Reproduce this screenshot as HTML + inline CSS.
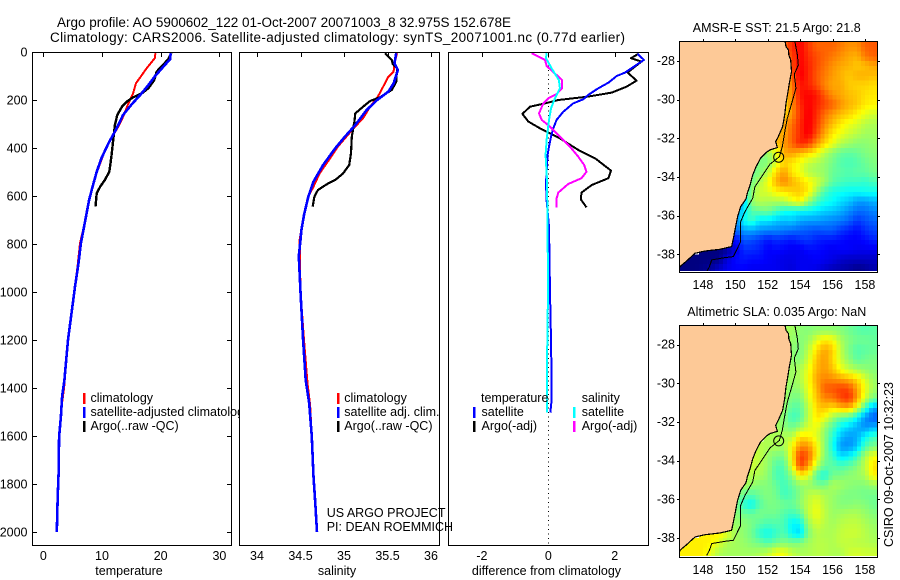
<!DOCTYPE html>
<html lang="en">
<head>
<meta charset="utf-8">
<title>Argo profile 5900602_122</title>
<style>
html,body{margin:0;padding:0;background:#fff;}
svg{display:block;}
text{font-family:"Liberation Sans",sans-serif;font-size:12.5px;fill:#000;}
.t13{font-size:13.5px;}
</style>
</head>
<body>
<svg id="chart" xmlns="http://www.w3.org/2000/svg" width="900" height="580" viewBox="0 0 900 580">
  <defs>
    <clipPath id="clip-t"><rect x="32" y="52" width="199" height="493"/></clipPath>
    <clipPath id="clip-s"><rect x="239" y="52" width="200" height="493"/></clipPath>
    <clipPath id="clip-d"><rect x="448" y="52" width="200" height="493"/></clipPath>
    <clipPath id="clip-m1"><rect x="679" y="41" width="198" height="230"/></clipPath>
    <clipPath id="clip-m2"><rect x="679" y="325" width="198" height="231"/></clipPath>
    <clipPath id="clip-legend"><rect x="80" y="390" width="159" height="50"/></clipPath>
  </defs>
  <g id="plots"></g>

  <text class="t13" x="57" y="27" textLength="454" lengthAdjust="spacing">Argo profile: AO 5900602_122 01-Oct-2007 20071003_8 32.975S 152.678E</text>
  <text class="t13" x="50" y="42" textLength="575" lengthAdjust="spacing">Climatology: CARS2006. Satellite-adjusted climatology: synTS_20071001.nc (0.77d earlier)</text>

  <text x="129" y="575" text-anchor="middle">temperature</text>
  <text x="337" y="575" text-anchor="middle">salinity</text>
  <text x="546.5" y="575" text-anchor="middle">difference from climatology</text>

  <g>
    <rect x="83" y="393" width="2.5" height="11" fill="#f00"/>
    <text x="90.5" y="402">climatology</text>
    <rect x="83" y="407" width="2.5" height="11" fill="#00f"/>
    <text x="90.5" y="416" clip-path="url(#clip-legend)">satellite-adjusted climatology</text>
    <rect x="83" y="421" width="2.5" height="11" fill="#000"/>
    <text x="90.5" y="430">Argo(..raw -QC)</text>
  </g>

  <g>
    <rect x="337" y="393" width="2.5" height="11" fill="#f00"/>
    <text x="344.3" y="402">climatology</text>
    <rect x="337" y="407" width="2.5" height="11" fill="#00f"/>
    <text x="344.3" y="416">satellite adj. clim.</text>
    <rect x="337" y="421" width="2.5" height="11" fill="#000"/>
    <text x="344.3" y="430">Argo(..raw -QC)</text>
  </g>
  <text x="326.7" y="517">US ARGO PROJECT</text>
  <text x="326.7" y="531">PI: DEAN ROEMMICH</text>

  <g>
    <text x="481" y="402">temperature</text>
    <rect x="473" y="407" width="2.5" height="11" fill="#00f"/>
    <text x="481.5" y="416">satellite</text>
    <rect x="473" y="421" width="2.5" height="11" fill="#000"/>
    <text x="481.5" y="430">Argo(-adj)</text>
    <text x="581.7" y="402">salinity</text>
    <rect x="573" y="407" width="2.5" height="11" fill="#0ff"/>
    <text x="581.7" y="416">satellite</text>
    <rect x="573" y="421" width="2.5" height="11" fill="#f0f"/>
    <text x="581.7" y="430">Argo(-adj)</text>
  </g>

  <text x="692.7" y="32" textLength="168" lengthAdjust="spacing">AMSR-E SST: 21.5 Argo: 21.8</text>
  <text x="687.3" y="316" textLength="179" lengthAdjust="spacing">Altimetric SLA: 0.035 Argo: NaN</text>
  <text transform="translate(893,547) rotate(-90)" textLength="165" lengthAdjust="spacing">CSIRO 09-Oct-2007 10:32:23</text>
</svg>

<script>
// ---------- depth axis ----------
const depthTicks = [0, 200, 400, 600, 800, 1000, 1200, 1400, 1600, 1800, 2000];

// ---------- temperature panel ----------
const tempTicks = [0, 10, 20, 30];
const tempClimDepth = [5, 26, 68, 96, 130, 172, 214, 270, 311, 346, 385, 430, 490, 540, 600, 707, 797, 880, 1000, 1200, 1400, 1480, 1550, 1603, 1756, 1853, 2000];
const tempClimValue = [19.1, 19.0, 17.6, 16.8, 15.8, 15.3, 14.5, 13.6, 12.8, 11.9, 11.0, 10.2, 9.3, 8.6, 8.0, 7.1, 6.25, 5.9, 5.3, 4.2, 3.55, 3.1, 2.9, 2.7, 2.6, 2.45, 2.3];
const tempSatDepth = [5, 30, 60, 105, 147, 179, 217, 262, 318, 380, 443, 499, 561, 617, 707, 797, 880, 978, 1200, 1367, 1436, 1520, 1603, 1756, 1853, 2000];
const tempSatValue = [21.7, 21.6, 20.5, 18.9, 17.6, 16.5, 15.1, 13.6, 12.5, 11.1, 9.9, 9.1, 8.4, 7.8, 7.1, 6.4, 6.0, 5.4, 4.2, 3.6, 3.2, 3.0, 2.7, 2.6, 2.45, 2.3];
const tempArgoDepth = [5, 30, 82, 117, 151, 172, 189, 207, 228, 262, 304, 367, 436, 499, 533, 561, 589, 644];
const tempArgoValue = [21.8, 21.3, 19.3, 18.9, 17.9, 16.8, 15.3, 14.2, 13.4, 12.6, 12.2, 11.9, 11.6, 11.25, 10.5, 9.7, 9.1, 8.9];

// ---------- salinity panel ----------
const salTicks = [34, 34.5, 35, 35.5, 36];
const salClimDepth = [5, 47, 82, 103, 144, 186, 228, 276, 318, 360, 394, 443, 506, 561, 603, 679, 783, 1000, 1200, 1380, 1470, 1603, 1769, 1881, 2000];
const salClimValue = [35.61, 35.58, 35.57, 35.51, 35.45, 35.39, 35.30, 35.22, 35.11, 35.01, 34.93, 34.84, 34.72, 34.65, 34.59, 34.54, 34.49, 34.5, 34.54, 34.58, 34.61, 34.63, 34.65, 34.67, 34.69];
const salSatDepth = [5, 47, 75, 131, 165, 200, 242, 304, 353, 401, 471, 540, 603, 679, 742, 783, 850, 1000, 1200, 1367, 1464, 1603, 1769, 1881, 2000];
const salSatValue = [35.60, 35.58, 35.62, 35.57, 35.51, 35.38, 35.26, 35.13, 35.01, 34.90, 34.76, 34.65, 34.59, 34.54, 34.51, 34.50, 34.48, 34.5, 34.53, 34.56, 34.60, 34.63, 34.65, 34.67, 34.69];
const salArgoDepth = [5, 33, 50, 68, 124, 158, 189, 204, 228, 256, 290, 353, 422, 471, 506, 533, 547, 575, 603, 644];
const salArgoValue = [35.47, 35.55, 35.56, 35.61, 35.6, 35.55, 35.41, 35.30, 35.22, 35.13, 35.12, 35.09, 35.08, 35.06, 34.99, 34.9, 34.82, 34.70, 34.66, 34.64];

// ---------- difference panel ----------
const diffTicks = [-2, 0, 2];
const diffTempArgoDepth = [8, 26, 40, 61, 86, 119, 144, 169, 186, 200, 214, 228, 258, 290, 322, 360, 408, 443, 494, 526, 554, 586, 614, 647];
const diffTempArgoValue = [2.71, 2.49, 2.81, 2.61, 2.39, 2.66, 2.36, 1.91, 1.20, 0.30, -0.10, -0.55, -0.78, -0.60, -0.20, 0.35, 0.90, 1.41, 1.89, 1.81, 1.31, 1.00, 0.98, 1.15];
const diffTempSatDepth = [8, 33, 58, 86, 100, 128, 151, 179, 197, 214, 249, 283, 318, 353, 394, 429, 547, 617, 728, 1000, 1200, 1367, 1450, 1503];
const diffTempSatValue = [2.69, 2.88, 2.61, 2.31, 2.06, 1.81, 1.51, 1.20, 1.05, 0.75, 0.45, 0.25, 0.15, 0.08, 0.02, -0.02, -0.07, -0.05, 0.02, 0.05, 0.08, 0.10, 0.10, 0.06];
const diffSalArgoDepth = [5, 19, 33, 58, 96, 117, 151, 175, 193, 214, 256, 283, 311, 353, 394, 436, 471, 499, 526, 550, 586, 610, 647];
const diffSalArgoValue = [-0.50, -0.30, -0.10, -0.05, 0.25, 0.42, 0.42, 0.25, 0.0, -0.15, -0.28, -0.20, 0.05, 0.35, 0.65, 0.90, 1.08, 1.15, 1.00, 0.60, 0.30, 0.25, 0.25];
const diffSalSatDepth = [5, 26, 68, 117, 151, 193, 235, 283, 367, 429, 533, 728, 1000, 1200, 1367, 1503];
const diffSalSatValue = [-0.05, -0.07, 0.10, 0.32, 0.35, 0.20, 0.08, 0.02, -0.05, -0.08, -0.04, -0.02, -0.01, -0.03, -0.04, -0.04];

// ---------- maps ----------
const lonTicks = [148, 150, 152, 154, 156, 158];
const latTicks = [-28, -30, -32, -34, -36, -38];
const profileLon = 152.678;
const profileLat = -32.975;
const rowFirstLon = [153, 153, 153, 153, 153, 153, 153, 153, 152.5, 152.5, 152, 152, 151.5, 151, 151, 150.5, 150, 150, 149.5, 149.5, 149.5, 148, 146.5, 146.5];
const sstRows = [
 [21,21.5,21.9,21.4,21,21,21,20.8,20.6,20.6,21,21.1],
 [20.8,21.3,21.9,21.5,21.2,21,20.8,20.6,20.4,20.3,20.8,21],
 [20.5,21.2,21.9,21.6,21.2,20.9,20.6,20.4,20.3,20.1,20.2,20.4],
 [20.2,21,22,21.6,21.1,20.8,20.5,20.3,20.1,20.3,20.3,20.2],
 [20,20.8,21.7,21.6,21.2,20.7,20.4,20.4,20.1,20,20,19.9],
 [20,20.7,21.7,21.9,21.7,21.1,20.6,20.4,20.2,20.1,19.9,19.8],
 [19.9,20.6,21.5,21.9,21.6,21.3,21,20.6,20.3,20.1,19.8,19.7],
 [20,20.6,21.4,22,21.5,20.9,20.5,20.2,20,19.7,19.4,19.2],
 [19.9,20.4,20.9,21.5,22,21.4,20.7,20.2,19.8,19.5,19.3,19,18.9],
 [20.3,20.4,21,21.5,22,21.2,20.4,19.8,19.5,19.2,19,18.8,18.8],
 [19.7,20.2,20.5,21,21.6,21.4,20.6,20,19.5,19,18.8,18.6,18.6,18.7],
 [18.7,19.3,20.4,20.5,20.2,20,19.6,19,18.6,18.3,18.2,18.3,18.5,18.6],
 [18.5,18.5,19.3,20,19.8,19.5,19.1,18.9,18.7,18.4,18.1,18,18.1,18.3,18.5],
 [18.3,18.5,19,20,20.5,19.8,19.5,19,18.8,18.7,18.3,18.2,18.1,18.2,18.2,18.4],
 [18.4,18.9,19.5,20.3,20.7,20.3,20,19.7,19.3,18.8,18.2,18,17.9,17.9,17.8,18],
 [17.5,18.6,19.2,19.3,19.7,19.8,20,20.1,19.8,18.8,18,17.6,17.5,17.4,17.4,17.5,17.5],
 [16.5,16.8,18.7,19,18.9,18.9,19,19.4,19.7,18.8,18,17.6,17.4,17.1,16.9,16.5,16.5,16.7],
 [16.3,17.2,18.1,18.3,18.4,18,17.6,17.5,17.4,17.4,17.2,17,16.9,16.7,16.4,16.1,16.1,16.3],
 [15.8,16.3,17.4,17.9,17.2,17.2,16.9,16.8,16.9,16.6,16.5,16.5,16.4,16.3,16.2,16,15.6,15.8,16],
 [15.5,16,16.5,16.6,16.4,16.3,16.3,16.2,16.1,16,15.9,15.8,15.9,15.9,15.6,15.4,15.2,15.5,15.7],
 [15.2,15.1,15.9,15.8,15.6,15.3,15.5,15.4,15.3,15.5,15.6,15.4,15.3,15.3,15.2,15.1,15.1,15.2,15.4],
 [14,14,14,14.2,14.8,15.5,15.5,15.4,15.1,15.2,15.1,15,15,15.2,15.2,15.1,15,15.1,15.1,15,15,15],
 [14,14,14,14,14,14.1,14.8,15.2,15.3,15.2,15.2,15.1,15,14.9,14.9,15,15,15.1,15,14.9,14.7,14.6,14.6,14.6,14.6],
 [14,14,14,14.1,14.3,14.7,15,15.1,15.1,15,15,15,15,14.9,14.8,15,15,14.9,14.7,14.5,14.4,14.3,14.1,14.2,14.4]
];
const slaRows = [
 [2,2,0,-1,0,0,0,-1,-3,-5,-6,-5],
 [2,1,-1,1,8,13,11,3,-1,-3,-3,-4],
 [2,0,-2,4,14,20,16,5,-2,-6,-5,-4],
 [2,0,-1,6,17,21,15,6,0,-5,-3,-2],
 [3,1,3,9,18,21,17,10,5,2,0,-1],
 [3,1,3,10,20,23,22,20,18,14,7,1],
 [2,0,1,9,18,27,28,30,29,20,10,2],
 [2,-2,-2,7,17,23,24,29,32,21,7,-2],
 [3,1,-5,-5,4,15,17,14,18,19,9,-8,-22],
 [2,-1,-8,-6,4,14,10,2,-4,-6,-14,-25,-30],
 [3,2,0,-3,1,7,10,1,-6,-14,-18,-22,-25,-22],
 [3,3,3,4,14,13,8,0,-10,-20,-24,-22,-14,-8],
 [4,3,3,2,11,22,22,12,0,-12,-24,-25,-20,-7,-2],
 [6,5,1,-2,-2,12,31,27,12,-1,-8,-17,-15,-8,3,10],
 [6,4,1,-6,-6,9,30,22,5,-4,-5,-7,-5,-1,5,14],
 [3,4,3,0,-7,-7,0,12,9,-6,-12,-3,-2,0,1,3,12],
 [3,3,1,-1,-1,-4,-8,-4,0,1,-2,-2,3,2,0,-1,-1,1],
 [0,-4,-6,-3,-1,-3,-8,-6,-1,4,6,3,1,-1,-2,-2,-3,-3],
 [2,-1,-10,-14,-6,-2,-2,-3,-4,0,5,9,4,1,-1,-1,0,-1,-3],
 [1,0,-3,-4,-2,-3,-3,-6,-8,-5,5,10,5,1,2,3,3,1,-1],
 [2,1,0,-2,-5,-7,-6,-7,-15,-14,1,7,4,2,4,5,5,3,1],
 [12,12,12,8,2,0,-3,-10,-13,-9,-6,-14,-18,-2,4,3,3,5,6,6,4,2],
 [12.5,12.5,12.5,12.5,12,8,3,2,1,-1,-3,-6,-3,-1,-2,-1,2,4,4,3,5,5,4,4,3],
 [12.5,12.5,12.5,12.5,8,3,2,2,2,2,3,5,10,10,5,3,3,4,4,3,3,6,7,6,6]
];
const coastLon = [153.07,153.13,153.28,153.30,153.42,153.47,153.33,153.25,153.13,153.05,152.92,152.65,152.49,152.59,152.14,151.93,151.56,151.28,151.07,150.91,150.74,150.66,150.33,150.14,149.98,149.88,149.77,149.05,148.13,147.51,147.0,146.58,146.54];
const coastLat = [-27.0,-27.26,-27.43,-27.69,-27.95,-28.55,-29.16,-29.59,-30.19,-30.79,-31.40,-31.91,-32.17,-32.48,-32.60,-32.72,-33.03,-33.47,-33.90,-34.41,-34.84,-35.14,-35.53,-36.05,-36.74,-37.17,-37.60,-37.74,-37.83,-37.95,-38.34,-38.64,-38.76];
const isobathLon = [153.68,153.83,153.89,153.64,153.74,153.48,153.21,153.07,152.90,152.72,152.14,151.63,151.21,151.07,150.6,150.33,150.33,149.88,149.36,148.54,148.4,148.23];
const isobathLat = [-27.0,-27.69,-28.21,-28.69,-29.41,-30.19,-30.97,-31.57,-32.43,-32.95,-33.34,-33.98,-34.5,-35.10,-35.79,-36.31,-37.34,-38.12,-38.17,-38.29,-38.64,-38.9];

// ---------- axis functions ----------
const yDepth = d => 52 + 0.24 * d;
const xTemp = v => 43.3 + 5.87 * v;
const xSal = v => 257 + 87 * (v - 34);
const xDiff = v => 548.3 + 33.2 * v;
const xLon = lon => 735.33 + (lon - 150) * 16.2;
const yLat1 = lat => 138.33 + (-32 - lat) * 19.33;
const yLat2 = lat => 138.33 + 283.7 + (-32 - lat) * 19.33;
const sstColor = v => jet((v - 14) / 9);
const slaColor = v => jet((v + 51.5) / 100);

const NS = 'http://www.w3.org/2000/svg';
const root = document.getElementById('plots');

function clamp01(a) { return Math.max(0, Math.min(1, a)); }
function jet(t) {
  const r = clamp01(1.5 - Math.abs(4 * t - 3));
  const g = clamp01(1.5 - Math.abs(4 * t - 2));
  const b = clamp01(1.5 - Math.abs(4 * t - 1));
  return 'rgb(' + Math.round(r * 255) + ',' + Math.round(g * 255) + ',' + Math.round(b * 255) + ')';
}
function mk(tag, parent, attrs) {
  const n = document.createElementNS(NS, tag);
  for (const k in attrs) n.setAttribute(k, attrs[k]);
  parent.appendChild(n);
  return n;
}
function seg(parent, x1, y1, x2, y2) {
  return mk('line', parent, { x1: x1, y1: y1, x2: x2, y2: y2, stroke: '#000', 'stroke-width': 1, 'shape-rendering': 'crispEdges' });
}
function label(parent, x, y, str, anchor) {
  const t = mk('text', parent, { x: x, y: y, 'text-anchor': anchor });
  t.textContent = str;
  return t;
}
function profile(parent, xs, ds, xf, color, width, name) {
  const pts = xs.map((v, i) => xf(v).toFixed(1) + ',' + yDepth(ds[i]).toFixed(1)).join(' ');
  const el = mk('polyline', parent, { points: pts, fill: 'none', stroke: color, 'stroke-width': width, 'stroke-linejoin': 'round', 'shape-rendering': 'crispEdges' });
  
  
}
function panel(name, x0, x1, ticks, xf, clipId, withDepthLabels) {
  const g = mk('g', root, {});
  
  
  const bg = mk('rect', g, { x: x0, y: 52, width: x1 - x0, height: 493, fill: '#fff' });
  
  
  const lines = mk('g', g, { 'clip-path': 'url(#' + clipId + ')' });
  
  
  const frame = mk('rect', g, { x: x0 + 0.5, y: 52.5, width: x1 - x0, height: 493, fill: 'none', stroke: '#000', 'stroke-width': 1, 'shape-rendering': 'crispEdges' });
  
  
  ticks.forEach(v => {
    const px = Math.round(xf(v)) + 0.5;
    const tick = seg(g, px, 52, px, 57);
    
    
    const lab = label(g, xf(v), 560, String(v), 'middle');
    
    
  });
  if (withDepthLabels) {
    depthTicks.forEach(d => {
      const py = Math.round(yDepth(d)) + 0.5;
      const left = seg(g, x0, py, x0 + 5, py);
      
      
      const right = seg(g, x1 - 4, py, x1 + 1, py);
      
      
      const lab = label(g, 27.5, yDepth(d) + 4.5, String(d), 'end');
      
      
    });
  }
  return lines;
}
// Reads the half-degree arrays at a quarter-degree display position.
function fieldAt(rows, lon, lat) {
  const gj = (-27.25 - lat) / 0.5;
  const j0 = Math.floor(gj);
  let sum = 0, wsum = 0;
  [j0, j0 + 1].forEach(j => {
    if (j < 0 || j >= rows.length) return;
    const wj = 1 - Math.abs(gj - j);
    const gk = (lon - rowFirstLon[j]) / 0.5;
    const k0 = Math.floor(gk);
    [k0, k0 + 1].forEach(k => {
      if (k < 0 || k >= rows[j].length) return;
      const w = wj * (1 - Math.abs(gk - k));
      if (w <= 0) return;
      sum += w * rows[j][k];
      wsum += w;
    });
  });
  return wsum > 0 ? sum / wsum : null;
}
function drawMap(name, rows, colorOf, yLat, clipId, top, bottom) {
  const g = mk('g', root, {});
  
  
  const body = mk('g', g, { 'clip-path': 'url(#' + clipId + ')' });
  
  
  rows.forEach((row, j) => {
    const lat0 = -27.25 - 0.5 * j;
    row.forEach((v, k) => {
      const lon0 = rowFirstLon[j] + 0.5 * k;
      [-0.125, 0.125].forEach(dLat => {
        [-0.125, 0.125].forEach(dLon => {
          const lon = lon0 + dLon;
          const lat = lat0 + dLat;
          const val = fieldAt(rows, lon, lat);
          const cell = mk('rect', body, {
            x: xLon(lon - 0.125).toFixed(2),
            y: yLat(lat + 0.125).toFixed(2),
            width: (xLon(lon + 0.125) - xLon(lon - 0.125) + 0.4).toFixed(2),
            height: (yLat(lat - 0.125) - yLat(lat + 0.125) + 0.4).toFixed(2),
            fill: colorOf(val === null ? v : val),
            'shape-rendering': 'crispEdges'
          });
          
          
        });
      });
    });
  });
  const landPts = coastLon.map((lon, i) => xLon(lon).toFixed(1) + ',' + yLat(coastLat[i]).toFixed(1));
  landPts.push(xLon(146.4).toFixed(1) + ',' + yLat(coastLat[coastLat.length - 1]).toFixed(1));
  landPts.push(xLon(146.4).toFixed(1) + ',' + (top - 2));
  landPts.push(xLon(coastLon[0]).toFixed(1) + ',' + (top - 2));
  const land = mk('polygon', body, { points: landPts.join(' '), fill: '#fdc997', stroke: 'none' });
  
  
  const coast = mk('polyline', body, { points: coastLon.map((lon, i) => xLon(lon).toFixed(1) + ',' + yLat(coastLat[i]).toFixed(1)).join(' '), fill: 'none', stroke: '#000', 'stroke-width': 1.2, 'shape-rendering': 'crispEdges' });
  
  
  const iso = mk('polyline', body, { points: isobathLon.map((lon, i) => xLon(lon).toFixed(1) + ',' + yLat(isobathLat[i]).toFixed(1)).join(' '), fill: 'none', stroke: '#000', 'stroke-width': 1, 'shape-rendering': 'crispEdges' });
  
  
  const marker = mk('circle', body, { cx: xLon(profileLon).toFixed(1), cy: yLat(profileLat).toFixed(1), r: 5, fill: 'none', stroke: '#000', 'stroke-width': 1 });
  
  
  const frame = mk('rect', g, { x: 679.5, y: top + 0.5, width: 198, height: bottom - top, fill: 'none', stroke: '#000', 'stroke-width': 1, 'shape-rendering': 'crispEdges' });
  
  
  lonTicks.forEach(lon => {
    const px = Math.round(xLon(lon)) + 0.5;
    const tick = seg(g, px, top - 2, px, top);
    
    
    const lab = label(g, xLon(lon), bottom + 17, String(lon), 'middle');
    
    
  });
  latTicks.forEach(lat => {
    const py = Math.round(yLat(lat)) + 0.5;
    const tl = seg(g, 677, py, 679, py);
    
    
    const tr = seg(g, 878, py, 880, py);
    
    
    const lab = label(g, 675, yLat(lat) + 4, String(lat), 'end');
    
    
  });
}

// ---------- build ----------
const tempLines = panel('temperature-panel', 32, 231, tempTicks, xTemp, 'clip-t', true);
profile(tempLines, tempClimValue, tempClimDepth, xTemp, '#f00', 2, 'temperature-climatology-line');
profile(tempLines, tempArgoValue, tempArgoDepth, xTemp, '#000', 2.4, 'temperature-argo-line');
profile(tempLines, tempSatValue, tempSatDepth, xTemp, '#00f', 2.6, 'temperature-satellite-line');

const salLines = panel('salinity-panel', 239, 439, salTicks, xSal, 'clip-s', false);
profile(salLines, salClimValue, salClimDepth, xSal, '#f00', 2, 'salinity-climatology-line');
profile(salLines, salArgoValue, salArgoDepth, xSal, '#000', 2.2, 'salinity-argo-line');
profile(salLines, salSatValue, salSatDepth, xSal, '#00f', 2.6, 'salinity-satellite-line');

const diffLines = panel('difference-panel', 448, 648, diffTicks, xDiff, 'clip-d', false);
const zeroLine = mk('line', diffLines, { x1: xDiff(0), y1: 52, x2: xDiff(0), y2: 545, stroke: '#000', 'stroke-width': 1, 'stroke-dasharray': '1 3.5', 'shape-rendering': 'crispEdges' });


profile(diffLines, diffTempArgoValue, diffTempArgoDepth, xDiff, '#000', 2, 'difference-temp-argo-line');
profile(diffLines, diffTempSatValue, diffTempSatDepth, xDiff, '#00f', 2, 'difference-temp-satellite-line');
profile(diffLines, diffSalArgoValue, diffSalArgoDepth, xDiff, '#f0f', 2, 'difference-sal-argo-line');
profile(diffLines, diffSalSatValue, diffSalSatDepth, xDiff, '#0ff', 2, 'difference-sal-satellite-line');

drawMap('sst-map', sstRows, sstColor, yLat1, 'clip-m1', 41, 272);
drawMap('sla-map', slaRows, slaColor, yLat2, 'clip-m2', 325, 557);
</script>
</body>
</html>
